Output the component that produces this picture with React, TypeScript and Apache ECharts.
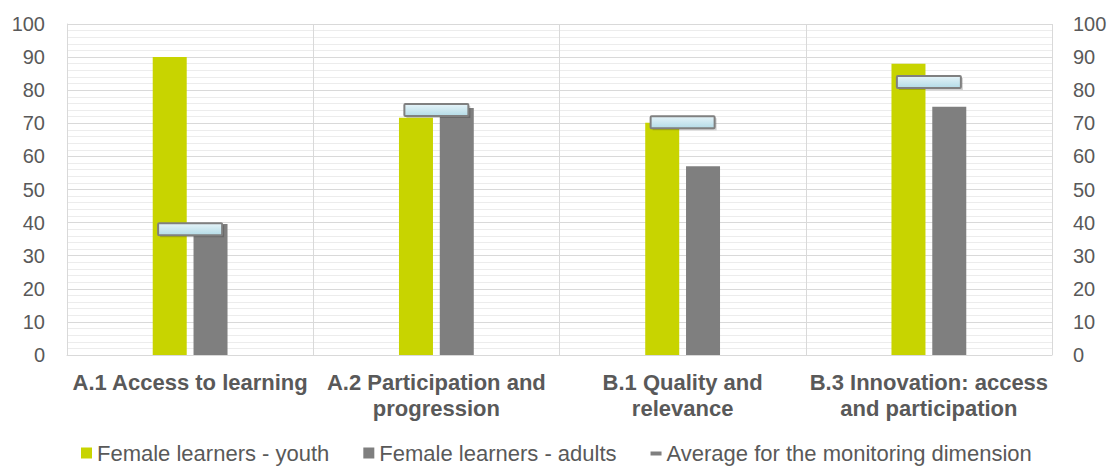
import React, { useEffect, useRef } from "react";
import * as echarts from "echarts";

// Monitoring dimensions (x axis)
const categories = [
  "A.1 Access to learning",
  "A.2 Participation and\nprogression",
  "B.1 Quality and\nrelevance",
  "B.3 Innovation: access\nand participation",
];

// Scores per dimension
const youthValues = [90, 71.7, 70.2, 88];
const adultValues = [39.6, 74.6, 57, 75];
const averageValues = [38, 74, 70.3, 82.5];

const seriesNames = [
  "Female learners - youth",
  "Female learners - adults",
  "Average for the monitoring dimension",
];

const FONT = "'Liberation Sans', Arial, sans-serif";
const TEXT = "#595959";

export default function App() {
  const ref = useRef<HTMLDivElement>(null);

  useEffect(() => {
    if (!ref.current) return;
    const chart = echarts.init(ref.current, null, { renderer: "svg" });

    const valueAxis = (position: "left" | "right") => ({
      type: "value" as const,
      position,
      min: 0,
      max: 100,
      interval: 10,
      axisLine: { show: position === "left", lineStyle: { color: "#d9d9d9" } },
      axisTick: { show: false },
      axisLabel: {
        color: TEXT,
        fontSize: 20,
        fontFamily: FONT,
        margin: position === "left" ? 22 : 21,
      },
      splitLine: { show: position === "left", lineStyle: { color: "#d9d9d9", width: 1 } },
      minorTick: { show: false, splitNumber: 5 },
      minorSplitLine: { show: position === "left", lineStyle: { color: "#ececec", width: 1 } },
    });

    // Average marker: a flat bar centred on the category at the average value
    const markerFill = new echarts.graphic.LinearGradient(0, 0, 0, 1, [
      { offset: 0, color: "#e6f4f9" },
      { offset: 1, color: "#b3dbe6" },
    ]);
    const renderAverage = (params: any, api: any) => {
      const [cx, cy] = api.coord([api.value(0), api.value(1)]);
      const w = 64;
      const h = 12;
      return {
        type: "group",
        children: [
          {
            type: "rect",
            shape: { x: cx - w / 2 + 2, y: cy - h / 2 + 2, width: w, height: h },
            style: { fill: "rgba(0,0,0,0.18)" },
          },
          {
            type: "rect",
            shape: { x: cx - w / 2, y: cy - h / 2, width: w, height: h, r: 1 },
            style: { fill: markerFill, stroke: "#808080", lineWidth: 2 },
          },
        ],
      };
    };

    chart.setOption({
      animation: false,
      backgroundColor: "#ffffff",
      grid: { left: 67, right: 58, top: 24, bottom: 112, containLabel: false },
      legend: {
        left: 76,
        top: 437,
        itemWidth: 11,
        itemHeight: 11,
        itemGap: 34,
        textStyle: { color: TEXT, fontSize: 22, fontFamily: FONT },
        data: [
          { name: seriesNames[0], icon: "rect" },
          { name: seriesNames[1], icon: "rect" },
          {
            name: seriesNames[2],
            icon: "path://M0,0M11,11M0,4h11v4h-11z",
            itemStyle: { color: "#7f7f7f", borderWidth: 0 },
          },
        ],
      },
      xAxis: {
        type: "category",
        data: categories,
        boundaryGap: true,
        axisLine: { show: true, lineStyle: { color: "#d9d9d9" } },
        axisTick: { show: false },
        splitLine: { show: true, lineStyle: { color: "#d9d9d9" } },
        axisLabel: {
          color: TEXT,
          fontSize: 22,
          fontWeight: "bold",
          fontFamily: FONT,
          lineHeight: 26,
          margin: 14,
          interval: 0,
        },
      },
      yAxis: [valueAxis("left"), valueAxis("right")],
      series: [
        {
          name: seriesNames[0],
          type: "bar",
          data: youthValues,
          barWidth: 34,
          barGap: "20%",
          itemStyle: { color: "#c8d400" },
        },
        {
          name: seriesNames[1],
          type: "bar",
          data: adultValues,
          barWidth: 34,
          barGap: "20%",
          itemStyle: { color: "#7f7f7f" },
        },
        {
          name: seriesNames[2],
          type: "custom",
          data: averageValues.map((v, i) => [i, v]),
          encode: { x: 0, y: 1 },
          renderItem: renderAverage,
          z: 5,
          itemStyle: { color: "#7f7f7f" },
          emphasis: { disabled: true },
        },
      ],
    });

    return () => chart.dispose();
  }, []);

  return (
    <div
      ref={ref}
      style={{ position: "fixed", left: 0, top: 0, width: 1110, height: 467 }}
    />
  );
}
